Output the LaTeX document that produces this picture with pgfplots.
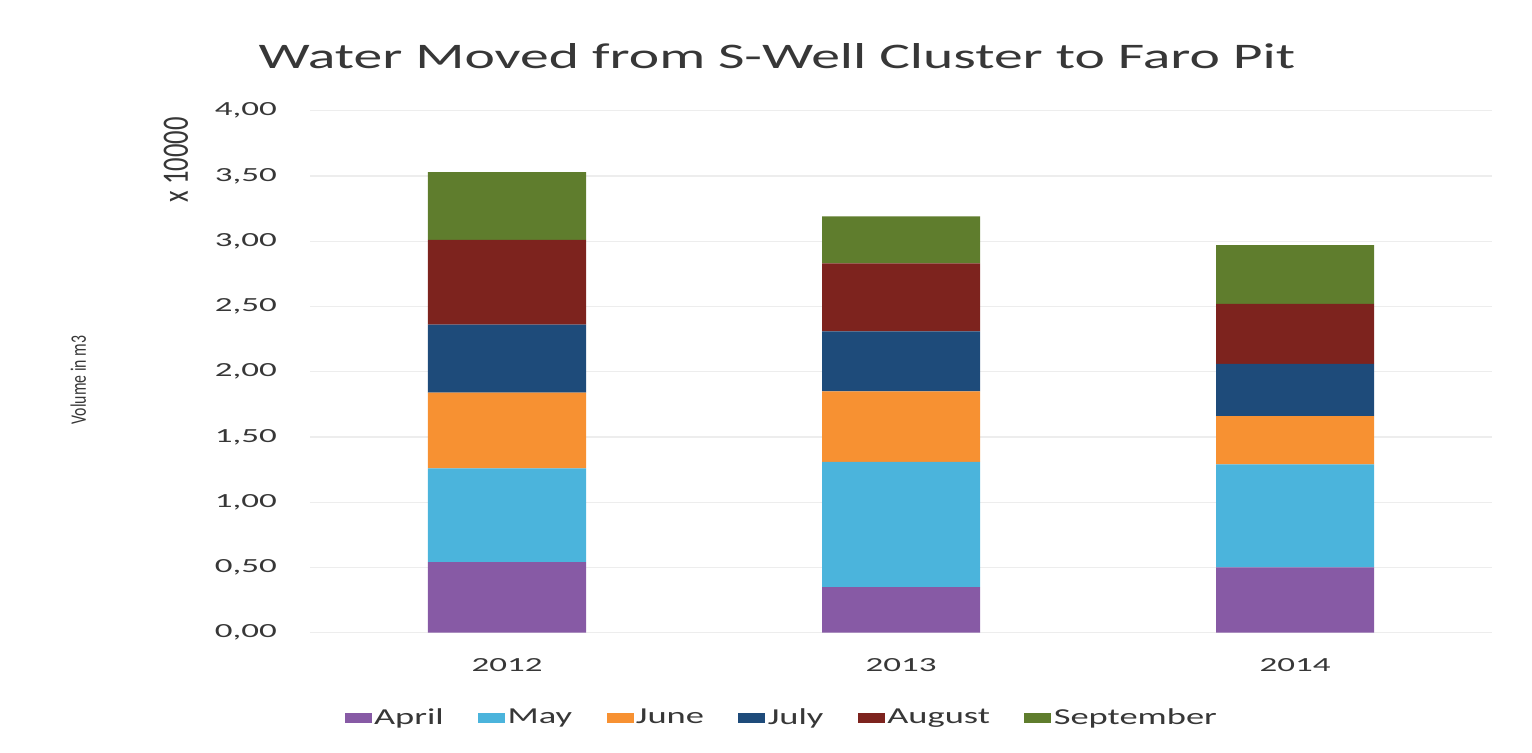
\documentclass[border=0pt]{standalone}
\usepackage{fontspec}
\setmainfont{Carlito}[FakeStretch=1.6]
\newfontfamily\tickfont{Carlito}[FakeStretch=1.75]
\newfontfamily\plainfont{Carlito}
\usepackage{graphicx}
\usepackage{pgfplots}
\pgfplotsset{compat=1.18}
\definecolor{cApril}{RGB}{135,90,165}
\definecolor{cMay}{RGB}{75,180,220}
\definecolor{cJune}{RGB}{247,145,50}
\definecolor{cJuly}{RGB}{30,75,122}
\definecolor{cAug}{RGB}{125,35,30}
\definecolor{cSep}{RGB}{95,125,45}
\definecolor{txt}{RGB}{55,55,55}
\begin{document}
\begin{tikzpicture}[x=1pt,y=1pt]
\useasboundingbox (0,0) rectangle (766,376);
\begin{axis}[
  at={(155pt,59.65pt)}, anchor=south west,
  scale only axis, width=591pt, height=261pt,
  clip=false,
  ybar stacked, bar width=79pt,
  xmin=-0.5, xmax=2.5, ymin=0, ymax=4,
  xtick={0,1,2}, xticklabels={2012,2013,2014},
  ytick={0,0.5,1,1.5,2,2.5,3,3.5,4},
  /pgf/number format/assume math mode=true,
  yticklabel style={/pgf/number format/fixed, /pgf/number format/fixed zerofill, /pgf/number format/precision=2, /pgf/number format/use comma},
  major tick length=0pt,
  axis line style={draw=none},
  ymajorgrids, grid style={gray!14, line width=0.6pt},
  tick label style={font=\tickfont\fontsize{10}{12}\selectfont, text=txt},
  yticklabel style={xshift=-13pt},
  xticklabel style={yshift=-9.5pt},
  title={Water Moved from S-Well Cluster to Faro Pit},
  title style={at={(0.395,1.0587)}, anchor=base, yshift=0pt, font=\fontsize{18}{22}\selectfont, text=txt},
  ylabel={\scalebox{1}[1.4]{Volume in m3}},
  ylabel style={at={(axis description cs:-0.196,0.484)}, anchor=center, font=\plainfont\fontsize{7.9}{9}\selectfont, text=txt},
  legend columns=6,
  legend style={at={(0.3993,-0.163)}, anchor=center, draw=none, fill=none,
    font=\fontsize{11.4}{13}\selectfont, text=txt,
    nodes={inner sep=1.2pt},
    /tikz/every even column/.append style={column sep=16pt}},
  legend image code/.code={\draw[#1,draw=none] (0pt,-2.6pt) rectangle (13.5pt,2.6pt);},
]
\addplot[fill=cApril, draw=none] coordinates {(0,0.54) (1,0.35) (2,0.50)};
\addplot[fill=cMay, draw=none] coordinates {(0,0.72) (1,0.96) (2,0.79)};
\addplot[fill=cJune, draw=none] coordinates {(0,0.58) (1,0.54) (2,0.37)};
\addplot[fill=cJuly, draw=none] coordinates {(0,0.52) (1,0.46) (2,0.40)};
\addplot[fill=cAug, draw=none] coordinates {(0,0.65) (1,0.52) (2,0.46)};
\addplot[fill=cSep, draw=none] coordinates {(0,0.52) (1,0.36) (2,0.45)};
\legend{April,May,June,July,August,September}
\node[rotate=90, font=\plainfont\fontsize{13.3}{16}\selectfont, text=txt] at (axis description cs:-0.1134,0.9056) {\scalebox{1}[1.4]{x 10000}};
\end{axis}
\end{tikzpicture}
\end{document}
